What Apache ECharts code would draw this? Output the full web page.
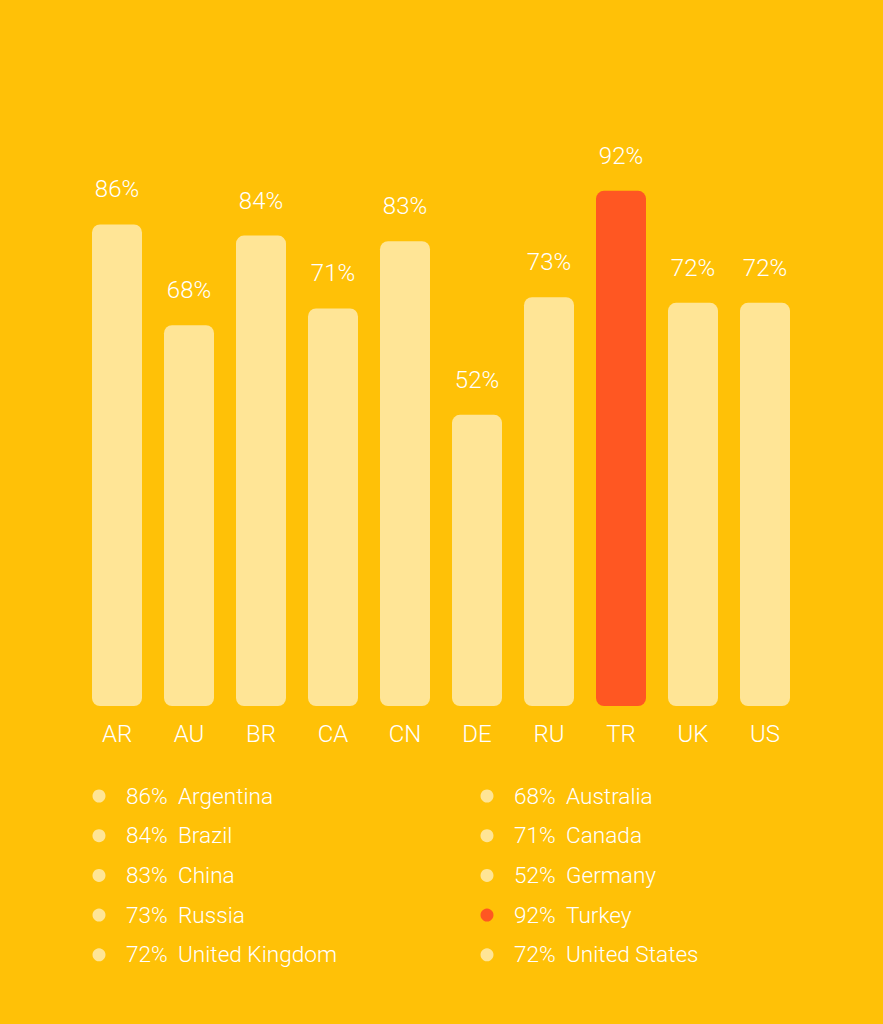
<!DOCTYPE html>
<html>
<head>
<meta charset="utf-8">
<script src="https://cdn.jsdelivr.net/npm/echarts@6/dist/echarts.min.js"></script>
<style>
  html, body { margin: 0; padding: 0; background: #FFC107; }
  #chart { width: 883px; height: 1024px; }
</style>
</head>
<body>
<div id="chart"></div>
<script>
// data
const codes = ['AR', 'AU', 'BR', 'CA', 'CN', 'DE', 'RU', 'TR', 'UK', 'US'];
const countries = ['Argentina', 'Australia', 'Brazil', 'Canada', 'China', 'Germany', 'Russia', 'Turkey', 'United Kingdom', 'United States'];
const values = [86, 68, 84, 71, 83, 52, 73, 92, 72, 72];
const highlight = 'TR';

const barColor = '#FFE596';
const hotColor = '#FF5722';
const textColor = '#FFFFFF';
const font = 'Roboto';

const chart = echarts.init(document.getElementById('chart'), null, { renderer: 'svg' });

// legend in two columns: even indices left, odd indices right
const legend = [];
countries.forEach((name, i) => {
    const col = i % 2;
    const row = Math.floor(i / 2);
    const x0 = col === 0 ? 99 : 487;
    const y = 796 + row * 39.7;
    const c = codes[i] === highlight ? hotColor : barColor;
    legend.push({
        type: 'circle', shape: { cx: x0, cy: y, r: 6.5 },
        style: { fill: c }
    });
    legend.push({
        type: 'text', x: x0 + 27, y: y,
        style: { text: values[i] + '%', fill: textColor, font: '300 22.6px ' + font, textVerticalAlign: 'middle' }
    });
    legend.push({
        type: 'text', x: x0 + 79, y: y,
        style: { text: name, fill: textColor, font: '300 22.6px ' + font, textVerticalAlign: 'middle' }
    });
});

chart.setOption({
    backgroundColor: '#FFC107',
    animation: false,
    grid: { left: 81, width: 720, top: 146, height: 560 },
    xAxis: {
        type: 'category',
        data: codes,
        axisLine: { show: false },
        axisTick: { show: false },
        axisLabel: { color: textColor, fontFamily: font, fontWeight: 300, fontSize: 24, margin: 16 }
    },
    yAxis: {
        type: 'value',
        min: 0,
        max: 100,
        show: false,
        splitLine: { show: false }
    },
    series: [{
        type: 'bar',
        barWidth: 50,
        data: values.map((v, i) => ({
            value: v,
            itemStyle: { color: codes[i] === highlight ? hotColor : barColor }
        })),
        itemStyle: { borderRadius: 8 },
        label: {
            show: true,
            position: 'top',
            distance: 23,
            formatter: '{c}%',
            color: textColor,
            fontFamily: font,
            fontWeight: 300,
            fontSize: 24
        }
    }],
    graphic: legend
});
</script>
</body>
</html>
